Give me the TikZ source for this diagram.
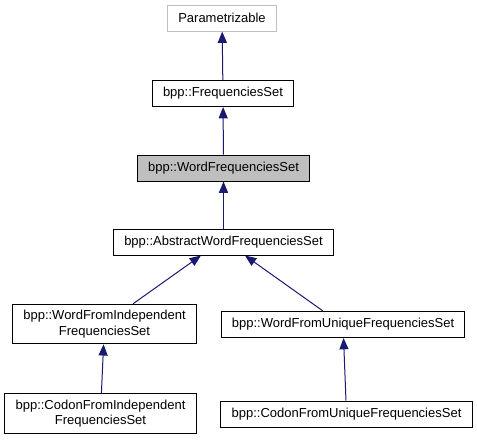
\documentclass[tikz,border=0pt]{standalone}
\usepackage{fontspec}
\setmainfont{Liberation Sans}
\usetikzlibrary{arrows.meta}
\definecolor{edgeblue}{HTML}{191970}
\definecolor{boxgray}{HTML}{BFBFBF}
\begin{document}
\begin{tikzpicture}[x=0.75pt,y=-0.75pt]
        \useasboundingbox (0,0) rectangle (477,440);

        \begin{scope}[every node/.style={rectangle, draw, line width=0.75pt, align=center,
            inner xsep=8pt, inner ysep=4.5pt, minimum height=19.5pt,
            font=\fontsize{9.75}{11.5}\selectfont}]
          \node[draw=boxgray] (param) at (222,18)    {Parametrizable};
          \node (freq)  at (223,93.5)  {bpp::FrequenciesSet};
          \node[fill=boxgray] (word)  at (223.5,168) {bpp::WordFrequenciesSet};
          \node (abs)   at (223.5,242) {bpp::AbstractWordFrequenciesSet};
          \node (wfi)   at (104.5,324) {bpp::WordFromIndependent\\FrequenciesSet};
          \node (wfu)   at (343,324.5) {bpp::WordFromUniqueFrequenciesSet};
          \node (cfi)   at (100.5,413.5) {bpp::CodonFromIndependent\\FrequenciesSet};
          \node (cfu)   at (346.5,414) {bpp::CodonFromUniqueFrequenciesSet};
        \end{scope}

        \begin{scope}[every edge/.style={draw, edgeblue, line width=0.75pt,
            -{Triangle[length=8.5pt,width=6.8pt]}}]
          \path (freq) edge (param);
          \path (word) edge (freq);
          \path (abs)  edge (word);
          \path ([xshift=21.4pt]wfi.north) edge ([xshift=-16.9pt]abs.south);
          \path ([xshift=-15pt]wfu.north)  edge ([xshift=16.1pt]abs.south);
          \path (cfi)  edge (wfi);
          \path (cfu)  edge (wfu);
        \end{scope}

      \end{tikzpicture}
\end{document}
